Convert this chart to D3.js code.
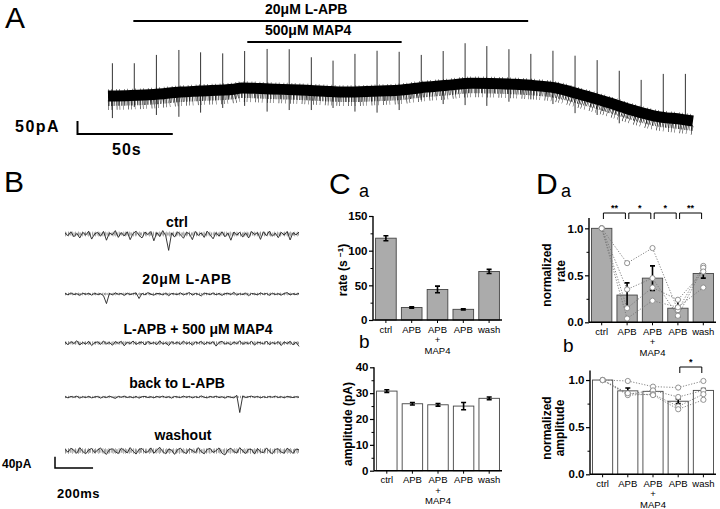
<!DOCTYPE html>
<html>
<head>
<meta charset="utf-8">
<script src="https://cdn.jsdelivr.net/npm/d3@7"></script>
<style>
  body { margin: 0; background: #fff; }
  svg { display: block; font-family: "Liberation Sans", Arial, sans-serif; }
</style>
</head>
<body>
<div id="container"></div>
<script>
/* DATA */
// panel A - holding current trace (s, pA relative to start) and test pulses
const traceTimeA = [0, 12, 24, 38, 48, 66, 70, 85, 101, 117, 127, 143, 154, 164, 177, 191, 201, 213, 222, 234, 248, 263, 275, 287, 301, 307];
const traceCurrentA = [0, 2, 6, 15, 19, 26, 31, 27, 23, 17, 15, 19, 23, 32, 40, 49, 48, 45, 41, 32, 6, -26, -54, -77, -90, -96];
const pulseTimeA = [2.3, 13.8, 25.4, 37.2, 48.6, 60.2, 71.7, 83.5, 95.1, 106.7, 118.1, 129.6, 141.2, 152.8, 164.4, 175.9, 187.4, 198.8, 210.4, 221.9, 233.5, 245.1, 256.7, 268.3, 279.8, 291.4, 303];
const pulseTopA = [126, 126, 158, 177, 168, 164, 173, 181, 180, 149, 136, 162, 174, 170, 158, 173, 203, 192, 180, 162, 174, 155, 138, 97, 62, 85, 85];
const pulseBottomA = [-85, -42, -73, -80, -64, -46, -38, -60, -54, -54, -46, -60, -64, -54, -15, -31, -35, -38, -22, -13, -31, -66, -73, -105, -85, -92, -73];
const drugNames = ["20\u03bcM L-APB", "500\u03bcM MAP4"];
const drugStart = [13.3, 73.1];
const drugEnd = [220.5, 154.1];

// panel B - example sweeps (pA), 1230 ms each
const sweepNames = ["ctrl", "20\u03bcM L-APB", "L-APB + 500 \u03bcM MAP4", "back to L-APB", "washout"];
const sweepCtrl = [4,-6,8,-10,2,-14,6,-4,10,-18, 0,6,-8,9,-22,4,-3,12,-12,5, -7,8,-20,2,10,-5,-14,7,-2,9,
  -24,5,-9,12,-6,-58,4,-11,8,-3, -15,6,1,-20,9,-5,4,-12,10,-3, -17,5,-8,8,-10,3,-22,7,-4,6,
  -11,4,-14,9,-2,5,-19,8,-6,10, -8,3,-13,6,-4,9,-21,5,-3,7];
const sweepAPB = [2,-3,4,-2,1,-5,3,-1,2,-4, 3,-2,1,-6,-34,2,-3,4,-1,2, -5,3,-2,1,4,-16,2,-3,5,-1,
  -4,2,1,-3,3,-6,2,0,-2,4, -3,1,5,-4,2,-1,-7,3,1,-2, 4,-3,2,-5,1,3,-2,6,-4,1,
  -2,3,-6,2,0,-3,4,-1,2,-5, 3,-2,1,-4,2,5,-3,1,-2,3];
const sweepMAP4 = [3,-6,5,-2,8,-7,2,-4,6,-9, 1,4,-5,7,-3,2,-8,5,-1,6, -10,3,-2,7,-5,1,4,-7,6,-3,
  2,-6,8,-4,1,-9,5,-2,3,-5, 7,-3,2,-8,4,-1,6,-6,3,-2, 5,-11,2,6,-4,1,-7,4,-3,8,
  -5,2,-3,6,-8,3,1,-4,7,-6, 2,-3,5,-9,4,-2,6,-7,3,-12];
const sweepBack = [1,-3,2,-1,3,-4,1,-2,2,-3, 0,2,-4,1,-2,3,-1,-5,2,-1, 3,-2,1,-3,2,-4,1,2,-2,1,
  -3,2,-1,3,-2,1,-4,2,0,-2, 3,-1,2,-3,1,-2,4,-1,-3,2, -1,3,-2,1,-4,2,-1,-3,6,-55,
  4,-2,1,3,-1,2,-3,1,-2,2, -1,3,-2,1,-3,2,0,-2,1,-1];
const sweepWash = [6,-4,10,2,-8,12,-2,-10,4,9, -6,3,11,-4,-12,5,8,-3,-9,10, 2,-7,12,-1,-11,6,9,-5,-3,11,
  -8,4,13,-2,-10,7,3,-12,5,10, -4,-9,8,2,-6,12,-3,-10,6,9, -5,1,11,-8,-14,4,10,-2,-7,12,
  0,-9,7,5,-11,9,-3,-6,11,-1, -10,6,8,-4,-8,10,2,-9,7,4];
const sweepDuration = 1230;

// panels C and D
const conditions = ["ctrl", "APB", "APB+MAP4", "APB2", "wash"];
const conditionLabels = [["ctrl"], ["APB"], ["APB", "+", "MAP4"], ["APB"], ["wash"]];
const rateMean = [118, 18, 44, 15.4, 70];
const rateSem = [3.6, 1, 4.8, 0.8, 3];
const ampMean = [30.8, 25.9, 25.5, 25, 28];
const ampSem = [0.5, 0.5, 0.5, 1.4, 0.5];
const normRateMean = [1, 0.29, 0.47, 0.15, 0.52];
const normRateSem = [0, 0.13, 0.13, 0.09, 0.05];
const normRateCells = [
  [1, 0.63, 0.79, 0.13, 0.60],
  [1, 0.35, 0.47, 0.07, 0.58],
  [1, 0.15, 0.37, 0.24, 0.54],
  [1, 0.04, 0.23, 0.16, 0.37]
];
const normAmpMean = [1, 0.885, 0.88, 0.775, 0.89];
const normAmpSem = [0, 0.03, 0.02, 0.025, 0.02];
const normAmpCells = [
  [1, 0.99, 0.93, 0.92, 0.99],
  [1, 0.85, 0.89, 0.82, 0.89],
  [1, 0.84, 0.85, 0.72, 0.85],
  [1, 0.86, 0.84, 0.69, 0.79]
];
const rateSig = [["ctrl", "APB", "**"], ["APB", "APB+MAP4", "*"], ["APB+MAP4", "APB2", "*"], ["APB2", "wash", "**"]];
const ampSig = [["APB2", "wash", "*"]];

/* SVG */
const svg = d3.select("#container")
  .append("svg")
  .attr("width", 720)
  .attr("height", 509);

// panel letters
const letters = [["A", 5, 28, 30], ["B", 4, 192, 30], ["C", 329, 194, 30], ["D", 536, 194, 30],
  ["a", 359, 197, 18], ["b", 359, 348, 19], ["a", 561, 197, 18], ["b", 563, 352, 19]];
svg.selectAll("text.letter")
  .data(letters)
  .join("text")
  .attr("class", "letter")
  .attr("x", d => d[1])
  .attr("y", d => d[2])
  .attr("font-size", d => d[3])
  .text(d => d[0]);

/* PANEL A */
const xA = d3.scaleLinear().domain([0, 307]).range([108, 693]);
const yA = d3.scaleLinear().domain([0, 50]).range([96, 83]);

// drug application bars
const drugY = [21, 42];
drugNames.forEach((name, i) => {
  svg.append("line")
    .attr("x1", xA(drugStart[i])).attr("x2", xA(drugEnd[i]))
    .attr("y1", drugY[i]).attr("y2", drugY[i])
    .attr("stroke", "#000").attr("stroke-width", 2);
  svg.append("text")
    .attr("x", 265).attr("y", drugY[i] - 7)
    .attr("font-size", 14).attr("font-weight", "bold")
    .text(name);
});

// test pulses
svg.selectAll("line.pulse")
  .data(pulseTimeA)
  .join("line")
  .attr("class", "pulse")
  .attr("x1", d => xA(d)).attr("x2", d => xA(d))
  .attr("y1", (d, i) => yA(pulseTopA[i]))
  .attr("y2", (d, i) => yA(pulseBottomA[i]))
  .attr("stroke", "#333").attr("stroke-width", 1);

// holding current band: core plus noise hairs
const lineA = d3.line()
  .x((d, i) => xA(traceTimeA[i]))
  .y(d => yA(d))
  .curve(d3.curveMonotoneX);

const hairs = [
  { dy: 7.5, w: 5, dash: "0.6 0.9 0.4 1.4 0.8 0.7 0.5 1.2" },
  { dy: 9, w: 10, dash: "0.5 3.1 0.4 4.7 0.6 2.3" },
  { dy: -5.5, w: 2.5, dash: "0.5 2.7 0.5 4.3" }
];
hairs.forEach(h => {
  svg.append("path").datum(traceCurrentA)
    .attr("d", lineA).attr("fill", "none")
    .attr("stroke", "#111").attr("stroke-width", h.w)
    .attr("stroke-dasharray", h.dash)
    .attr("transform", `translate(0,${h.dy})`);
});
svg.append("path").datum(traceCurrentA)
  .attr("d", lineA).attr("fill", "none")
  .attr("stroke", "#000").attr("stroke-width", 11);

// scale bar A
svg.append("path")
  .attr("d", `M77.5,${134 - (yA(0) - yA(50))}V134H${77.5 + xA(50) - xA(0)}`)
  .attr("fill", "none").attr("stroke", "#000").attr("stroke-width", 2);
svg.append("text").attr("x", 15).attr("y", 132)
  .attr("font-size", 16).attr("font-weight", "bold").attr("letter-spacing", 1.5)
  .text("50pA");
svg.append("text").attr("x", 112).attr("y", 155)
  .attr("font-size", 16).attr("font-weight", "bold").attr("letter-spacing", 1)
  .text("50s");

/* PANEL B */
const xB = d3.scaleLinear().domain([0, sweepDuration]).range([65, 299]);
const yB = d3.scaleLinear().domain([0, 40]).range([0, -11.3]);
const sweeps = [sweepCtrl, sweepAPB, sweepMAP4, sweepBack, sweepWash];
const sweepY = [234, 294, 343, 397, 451];
const sweepNoise = [5, 3, 4, 2.5, 6];
const sweepLabelX = [177, 187, 198, 177, 183];
const sweepLabelY = [227, 284, 334, 388, 440];

sweeps.forEach((sw, k) => {
  const dt = sweepDuration / (sw.length - 1);
  const lineB = d3.line().x((d, i) => xB(i * dt)).y(d => yB(d));
  const g = svg.append("g").attr("transform", `translate(0,${sweepY[k]})`);
  // fine noise texture, two ragged layers
  g.append("line")
    .attr("x1", xB(0)).attr("x2", xB(sweepDuration))
    .attr("stroke", "#555").attr("stroke-width", sweepNoise[k] * 0.6)
    .attr("stroke-dasharray", "0.5 1.1 0.4 1.6 0.6 0.9");
  g.append("line")
    .attr("x1", xB(0)).attr("x2", xB(sweepDuration))
    .attr("stroke", "#666").attr("stroke-width", sweepNoise[k])
    .attr("stroke-dasharray", "0.4 2.9 0.5 3.7 0.4 2.2");
  g.append("path").datum(sw)
    .attr("d", lineB)
    .attr("fill", "none").attr("stroke", "#222").attr("stroke-width", 0.9);
  svg.append("text")
    .attr("x", sweepLabelX[k]).attr("y", sweepLabelY[k])
    .attr("text-anchor", "middle")
    .attr("font-size", 14).attr("font-weight", "bold")
    .attr("letter-spacing", k === 1 ? 0.7 : 0)
    .text(sweepNames[k]);
});

// scale bar B
svg.append("path")
  .attr("d", `M55,${468 + yB(40)}V468H${55 + xB(200) - xB(0)}`)
  .attr("fill", "none").attr("stroke", "#000").attr("stroke-width", 1.5);
svg.append("text").attr("x", 2).attr("y", 468)
  .attr("font-size", 12).attr("font-weight", "bold").text("40pA");
svg.append("text").attr("x", 57).attr("y", 498)
  .attr("font-size", 13).attr("font-weight", "bold").attr("letter-spacing", 0.5).text("200ms");

/* BAR PANELS */
function barPanel(opts) {
  const x = d3.scaleBand().domain(conditions).range(opts.xRange).paddingInner(0.2).paddingOuter(0.1);
  const y = d3.scaleLinear().domain(opts.yDomain).range(opts.yRange);
  const cx = i => x(conditions[i]) + x.bandwidth() / 2;
  const g = svg.append("g");

  // bars
  g.selectAll("rect")
    .data(opts.mean)
    .join("rect")
    .attr("x", (d, i) => x(conditions[i]))
    .attr("width", x.bandwidth())
    .attr("y", d => y(d))
    .attr("height", d => y(0) - y(d))
    .attr("fill", opts.fill)
    .attr("stroke", "#444").attr("stroke-width", 0.9);

  // individual cells
  if (opts.cells) {
    const lineC = d3.line().x((d, i) => cx(i)).y(d => y(d));
    opts.cells.forEach(cell => {
      g.append("path").datum(cell).attr("d", lineC)
        .attr("fill", "none").attr("stroke", "#777")
        .attr("stroke-width", 0.9).attr("stroke-dasharray", "1.2 1.6");
    });
  }

  // error bars
  opts.mean.forEach((m, i) => {
    const s = opts.sem[i];
    if (s <= 0) return;
    g.append("path")
      .attr("d", `M${cx(i)},${y(m - s)}V${y(m + s)}M${cx(i) - 2.5},${y(m + s)}H${cx(i) + 2.5}M${cx(i) - 2.5},${y(m - s)}H${cx(i) + 2.5}`)
      .attr("fill", "none").attr("stroke", "#000").attr("stroke-width", 1.6);
  });

  if (opts.cells) {
    opts.cells.forEach(cell => {
      g.selectAll(null).data(cell).join("circle")
        .attr("cx", (d, i) => cx(i)).attr("cy", d => y(d)).attr("r", 2.6)
        .attr("fill", "#fff").attr("stroke", "#888").attr("stroke-width", 0.9);
    });
  }

  // y axis
  const yAxis = g.append("g")
    .attr("transform", `translate(${opts.xRange[0]},0)`)
    .call(d3.axisLeft(y).tickValues(opts.ticks).tickFormat(d3.format(opts.fmt)).tickSize(4).tickPadding(1.5));
  yAxis.select(".domain").attr("d", `M0,${y(opts.yDomain[1])}V${y(0)}`).attr("stroke-width", 1.4);
  yAxis.selectAll("line").attr("stroke-width", 1.2);
  yAxis.selectAll("text").attr("font-size", 11.5).attr("font-weight", "bold")
    .attr("font-family", "'Liberation Sans', Arial, sans-serif").attr("fill", "#000");
  g.append("g")
    .attr("transform", `translate(${opts.xRange[0]},0)`)
    .call(d3.axisLeft(y).tickValues(opts.minor).tickFormat("").tickSize(2.5))
    .call(a => a.select(".domain").remove());

  // x axis
  g.append("line")
    .attr("x1", opts.xRange[0]).attr("x2", opts.xRange[1])
    .attr("y1", y(0)).attr("y2", y(0))
    .attr("stroke", "#000").attr("stroke-width", 1.4);
  conditions.forEach((c, i) => {
    g.append("line").attr("x1", cx(i)).attr("x2", cx(i))
      .attr("y1", y(0)).attr("y2", y(0) + 3).attr("stroke", "#000");
    conditionLabels[i].forEach((t, j) => {
      g.append("text")
        .attr("x", cx(i)).attr("y", y(0) + 12.5 + j * 10.5)
        .attr("text-anchor", "middle").attr("font-size", 9.5)
        .text(t);
    });
  });

  // significance brackets
  (opts.sig || []).forEach(([a, b, star]) => {
    const mid = (x(a) + x(b)) / 2 + x.bandwidth() / 2;
    const top = opts.sigY;
    g.append("path")
      .attr("d", `M${mid - 11},${top + 6}V${top}H${mid + 11}V${top + 6}`)
      .attr("fill", "none").attr("stroke", "#000").attr("stroke-width", 1);
    g.append("text").attr("x", mid).attr("y", top - 2)
      .attr("text-anchor", "middle").attr("font-size", 9).attr("font-weight", "bold")
      .text(star);
  });

  // y label
  opts.yLabel.forEach(([t, lx, ly]) => {
    const txt = g.append("text")
      .attr("transform", `translate(${lx},${ly}) rotate(-90)`)
      .attr("text-anchor", "middle").attr("font-size", 12).attr("font-weight", "bold");
    if (t === "rate (s-1)") {
      txt.append("tspan").text("rate (s ");
      txt.append("tspan").attr("dy", -4).attr("font-size", 8).text("\u22121");
      txt.append("tspan").attr("dy", 4).text(")");
    } else {
      txt.text(t);
    }
  });
}

// C a
barPanel({
  xRange: [373, 502], yDomain: [0, 150], yRange: [320, 216],
  mean: rateMean, sem: rateSem, fill: "#ababab",
  ticks: [0, 50, 100, 150], minor: [25, 75, 125], fmt: "d",
  yLabel: [["rate (s-1)", 347, 270]]
});
// C b
barPanel({
  xRange: [374, 502], yDomain: [0, 40], yRange: [470.7, 367.3],
  mean: ampMean, sem: ampSem, fill: "#fff",
  ticks: [0, 10, 20, 30, 40], minor: [5, 15, 25, 35], fmt: "d",
  yLabel: [["amplitude (pA)", 352, 424]]
});
// D a
barPanel({
  xRange: [589, 716], yDomain: [0, 1.11], yRange: [322.3, 218],
  mean: normRateMean, sem: normRateSem, fill: "#ababab", cells: normRateCells,
  ticks: [0, 0.5, 1], minor: [0.25, 0.75], fmt: ".1f",
  sig: rateSig, sigY: 213,
  yLabel: [["normalized", 551, 275], ["rate", 565, 271]]
});
// D b
barPanel({
  xRange: [590, 716], yDomain: [0, 1.1], yRange: [474.3, 370.6],
  mean: normAmpMean, sem: normAmpSem, fill: "#fff", cells: normAmpCells,
  ticks: [0, 0.5, 1], minor: [0.25, 0.75], fmt: ".1f",
  sig: ampSig, sigY: 367,
  yLabel: [["normalized", 551, 428], ["amplitude", 564, 428]]
});
</script>
</body>
</html>
